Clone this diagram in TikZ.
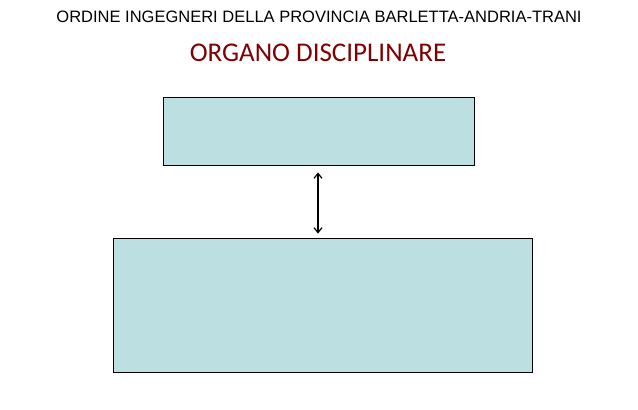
\documentclass[tikz,border=0pt]{standalone}
\usepackage{fontspec}
\setmainfont{Liberation Sans}
\newfontfamily\calib{Carlito}
\usetikzlibrary{arrows.meta}
\definecolor{boxfill}{HTML}{BCDFE2}
\definecolor{darkred}{HTML}{7F0000}
\begin{document}
\begin{tikzpicture}[x=1pt,y=-1pt,
  panel/.style={draw=black, line width=0.8pt, fill=boxfill, inner sep=0pt},
  link/.style={{Straight Barb[length=5pt,width=8pt,line width=1.2pt]}-{Straight Barb[length=5pt,width=8pt,line width=1.2pt]}, line width=1.4pt}]
\useasboundingbox (0,0) rectangle (638,410);
\node[anchor=center, font=\fontsize{16.5}{18}\selectfont] (head) at (319,17) {ORDINE INGEGNERI DELLA PROVINCIA BARLETTA-ANDRIA-TRANI};
\node[anchor=center, text=darkred, font=\calib\fontsize{27}{30}\selectfont] (title) at (318,53) {ORGANO DISCIPLINARE};
\node[panel, minimum width=311pt, minimum height=68pt] (top) at (318.5,131) {};
\node[panel, minimum width=419pt, minimum height=134pt] (bottom) at (322.5,305) {};
\draw[link] ([yshift=-7pt]top.south -| 318,0) -- ([yshift=4pt]bottom.north -| 318,0);
\end{tikzpicture}
\end{document}
